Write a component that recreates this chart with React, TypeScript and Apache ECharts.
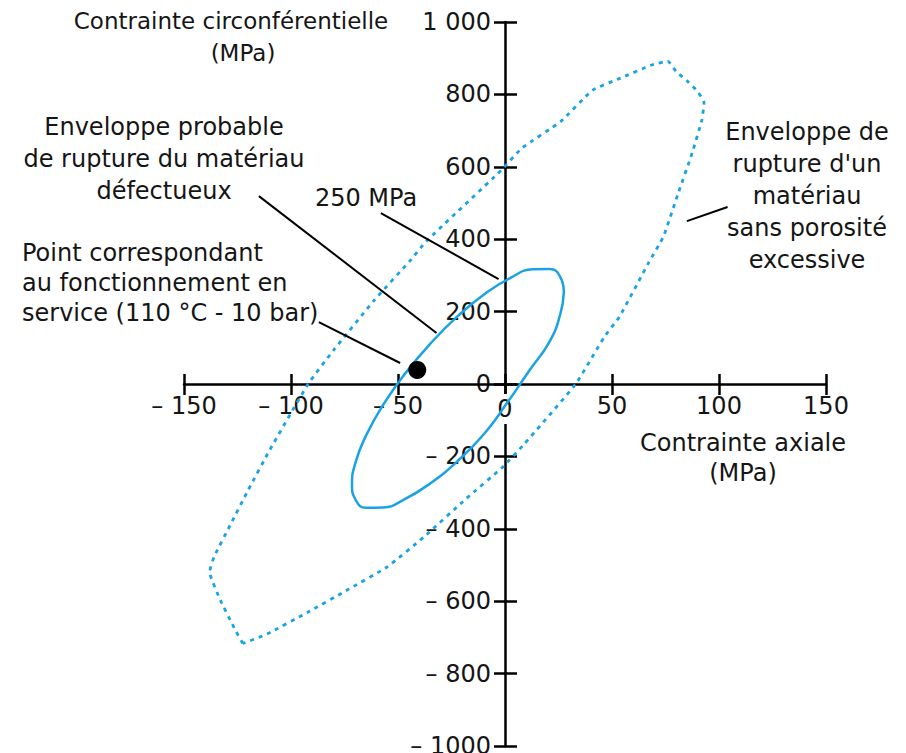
import React, { useEffect, useRef } from "react";
import * as echarts from "echarts";

// ---- Data ----
const xTicks = [-150, -100, -50, 0, 50, 100, 150];
const yTicks = [-1000, -800, -600, -400, -200, 0, 200, 400, 600, 800, 1000];
const xRange = [xTicks[0], xTicks[xTicks.length - 1]];
const yRange = [yTicks[0], yTicks[yTicks.length - 1]];

// Dotted envelope: failure envelope of a material without excessive porosity
const envelopePoints: number[][] = [
  [-122.5, -717], [-126, -680], [-133, -597], [-138, -519], [-136, -478],
  [-128, -385], [-120, -293], [-110, -183], [-92, 0], [-80, 94], [-61, 232],
  [-44, 343], [-37, 393], [-2, 589], [8, 652], [26, 725], [41, 812],
  [54, 845], [68, 880], [76, 892], [80, 863], [85.5, 835], [90, 808],
  [93, 777], [92, 730], [87.5, 639], [81, 528], [74, 407], [67, 334],
  [53.5, 186], [46.5, 131], [33, 0], [8.5, -169], [-1, -229], [-18, -316],
  [-38, -423], [-55, -505], [-74, -570], [-92, -630], [-111, -690],
  [-122.5, -717],
];

// Solid ellipse: probable failure envelope of the defective material (250 MPa)
const ellipsePoints: number[][] = [
  [27.5, 253], [25.8, 192], [20.9, 118], [11, 34], [1, -52], [-9.5, -136],
  [-22, -212], [-34.8, -274], [-46.8, -318], [-57, -341], [-64.9, -342],
  [-69.8, -320], [-71.5, -277], [-69.8, -216], [-64.9, -142], [-57, -58],
  [-46.8, 28], [-34.8, 112], [-22, 188], [-9.2, 250], [2.8, 294],
  [13, 317], [20.9, 318], [25.8, 296], [27.5, 253],
];

const servicePoint: number[][] = [[-41, 39]];

const leaderLines: number[][][] = [
  [[-115, 519], [-32, 141]],
  [[-58, 472], [-3, 290]],
  [[-87, 171], [-49, 58]],
  [[104, 489], [85, 450]],
];

const FONT = "DejaVu Sans";
const FS = 24;
const TXT = "#151515";
const BLUE = "#1aa3e2";

function fmtX(v: number): string {
  if (v === 0) return "{z|0}";
  return v < 0 ? "\u2013 " + -v : String(v);
}
function fmtY(v: number): string {
  if (v === 1000) return "1 000";
  if (v < 0) return "\u2013 " + -v;
  return String(v);
}

// plot area (pixels)
const G = { left: 184, right: 80, top: 22, bottom: 7 };
const W = 906, H = 753;

export default function App() {
  const ref = useRef<HTMLDivElement>(null);
  useEffect(() => {
    if (!ref.current) return;
    const chart = echarts.init(ref.current, null, { renderer: "svg" });
    const labelStyle = { fontFamily: FONT, fontSize: FS, color: TXT };
    const tickStyle = { color: "#000", width: 2.5 };
    const plotW = W - G.left - G.right;
    const plotH = H - G.top - G.bottom;
    const zeroX = G.left + (plotW * (0 - xRange[0])) / (xRange[1] - xRange[0]);
    const zeroY = G.top + (plotH * (yRange[1] - 0)) / (yRange[1] - yRange[0]);
    const hiddenX = (gi: number) => ({ type: "value", gridIndex: gi, min: xRange[0], max: xRange[1], show: false });
    const hiddenY = (gi: number) => ({ type: "value", gridIndex: gi, min: yRange[0], max: yRange[1], show: false });
    const txt = (x: number, y: number, text: string, align: string, lh: number, fs = FS) => ({
      type: "text", x, y, z: 10,
      style: { text, font: `${fs}px "${FONT}"`, fill: TXT, textAlign: align, textVerticalAlign: "middle", lineHeight: lh },
    });
    const option: any = {
      animation: false,
      backgroundColor: "#fff",
      grid: [
        { ...G, containLabel: false, outerBoundsMode: "none" },
        // strip whose bottom edge is y = 0 : carries the x axis
        { left: G.left, right: G.right, top: G.top, bottom: H - zeroY, containLabel: false, outerBoundsMode: "none" },
        // strip whose left edge is x = 0 : carries the y axis
        { left: zeroX, right: G.right, top: G.top, bottom: G.bottom, containLabel: false, outerBoundsMode: "none" },
      ],
      xAxis: [
        hiddenX(0),
        {
          type: "value", gridIndex: 1, min: xRange[0], max: xRange[1], interval: 50, position: "bottom", z: 3,
          axisLine: { show: true, onZero: false, lineStyle: { color: "#000", width: 2.5 } },
          axisTick: { show: true, length: 11, inside: false, lineStyle: tickStyle },
          axisLabel: {
            ...labelStyle, margin: 10, formatter: fmtX,
            rich: { z: { fontFamily: FONT, fontSize: FS, color: TXT, backgroundColor: "#fff", padding: [3, 3, 3, 3] } },
          },
          splitLine: { show: false },
        },
        {
          type: "value", gridIndex: 1, min: xRange[0], max: xRange[1], interval: 50, position: "bottom", z: 3,
          axisLine: { show: false, onZero: false },
          axisTick: { show: true, length: 10, inside: true, lineStyle: tickStyle },
          axisLabel: { show: false },
          splitLine: { show: false },
        },
        hiddenX(2),
      ],
      yAxis: [
        hiddenY(0),
        hiddenY(1),
        {
          type: "value", gridIndex: 2, min: yRange[0], max: yRange[1], interval: 200, position: "left", z: 1,
          axisLine: { show: true, onZero: false, lineStyle: { color: "#000", width: 2.5 } },
          axisTick: { show: true, length: 11, inside: false, lineStyle: tickStyle },
          axisLabel: { ...labelStyle, margin: 14, formatter: fmtY },
          splitLine: { show: false },
        },
        {
          type: "value", gridIndex: 2, min: yRange[0], max: yRange[1], interval: 200, position: "left", z: 1,
          axisLine: { show: false, onZero: false },
          axisTick: { show: true, length: 12, inside: true, lineStyle: tickStyle },
          axisLabel: { show: false },
          splitLine: { show: false },
        },
      ],
      series: [
        {
          type: "line", xAxisIndex: 0, yAxisIndex: 0, data: envelopePoints, showSymbol: false, smooth: 0.15, silent: true,
          lineStyle: { color: BLUE, width: 2.8, type: [4, 5] }, z: 4,
        },
        {
          type: "line", xAxisIndex: 0, yAxisIndex: 0, data: ellipsePoints, showSymbol: false, smooth: 0.5, silent: true,
          lineStyle: { color: BLUE, width: 2.5 }, z: 5,
        },
        {
          type: "line", xAxisIndex: 0, yAxisIndex: 0, data: [], silent: true, z: 6,
          markLine: {
            symbol: ["none", "none"], silent: true, animation: false,
            label: { show: false },
            lineStyle: { color: "#000", width: 2, type: "solid" },
            data: leaderLines.map((seg) => [{ coord: seg[0] }, { coord: seg[1] }]),
          },
        },
        {
          type: "scatter", xAxisIndex: 0, yAxisIndex: 0, data: servicePoint, symbol: "circle", symbolSize: 18,
          itemStyle: { color: "#000", opacity: 1 }, silent: true, z: 7,
        },
      ],
      graphic: [
        txt(231, 21, "Contrainte circonférentielle", "center", 30, 23),
        txt(243, 53, "(MPa)", "center", 30, 23),
        txt(743, 458, "Contrainte axiale\n(MPa)", "center", 30),
        txt(164, 159, "Enveloppe probable\nde rupture du matériau\ndéfectueux", "center", 32),
        txt(366, 198, "250 MPa", "center", 30),
        txt(22, 283, "Point correspondant\nau fonctionnement en\nservice (110 °C - 10 bar)", "left", 30),
        txt(807, 196, "Enveloppe de\nrupture d'un\nmatériau\nsans porosité\nexcessive", "center", 32),
      ],
    };
    chart.setOption(option);
    return () => chart.dispose();
  }, []);
  return (
    <div
      ref={ref}
      style={{ position: "fixed", left: 0, top: 0, width: W, height: H, background: "#fff" }}
    />
  );
}
